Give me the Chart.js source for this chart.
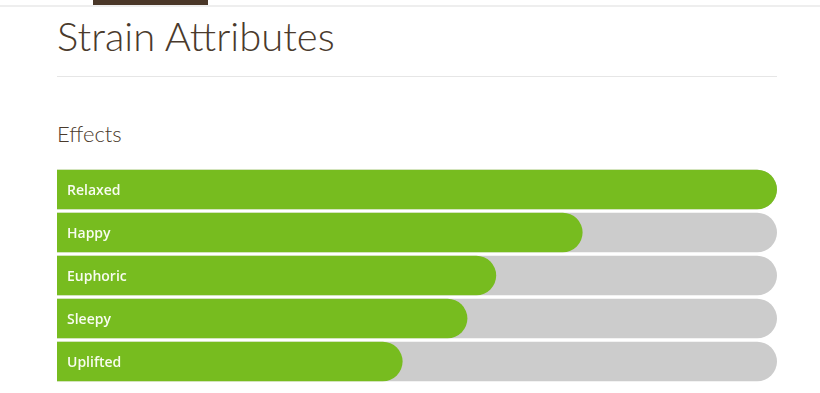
<!DOCTYPE html>
<html lang="en">
<head>
    <meta charset="UTF-8">
    <script src="https://cdn.jsdelivr.net/npm/chart.js"></script>
    <title>Strain Attributes</title>
    <style>
        body {
            margin: 0;
            background: #fff;
            font-family: Lato, "Open Sans", sans-serif;
            width: 820px;
            height: 393px;
            position: relative;
            overflow: hidden;
        }
        .topline {
            position: absolute; left: 0; top: 5px; width: 820px; height: 2px;
            background: #eeeeee;
        }
        .tab {
            position: absolute; left: 93px; top: 0; width: 115px; height: 5px;
            background: #4a3728;
        }
        h1 {
            position: absolute; left: 57px; top: 12px; margin: 0;
            font-weight: 300; font-size: 40px; color: #4a3a2c;
        }
        .rule {
            position: absolute; left: 57px; top: 76px; width: 720px; height: 1px;
            background: #e6e6e6;
        }
        h3 {
            position: absolute; left: 57px; top: 120px; margin: 0;
            font-weight: 300; font-size: 22px; color: #4a3a2c;
        }
        .chart-box {
            position: absolute; left: 57px; top: 168px; width: 720px; height: 215px;
        }
    </style>
</head>
<body>
    <div class="topline"></div>
    <div class="tab"></div>
    <h1>Strain Attributes</h1>
    <div class="rule"></div>
    <h3>Effects</h3>
    <div class="chart-box"><canvas id="effectsChart"></canvas></div>

    <script>
        const effects = ['Relaxed', 'Happy', 'Euphoric', 'Sleepy', 'Uplifted'];
        const effectScores = [100, 73, 61, 57, 48];
        const fullScale = [100, 100, 100, 100, 100];

        // white labels sitting inside the left end of each bar
        const barLabels = {
            id: 'barLabels',
            afterDatasetsDraw(chart) {
                const ctx = chart.ctx;
                const x = chart.scales.x;
                const y = chart.scales.y;
                ctx.save();
                ctx.fillStyle = '#f8fcf0';
                ctx.font = '600 14px "Open Sans"';
                ctx.textBaseline = 'middle';
                effects.forEach((name, i) => {
                    ctx.fillText(name, x.left + 10, y.getPixelForValue(i) + 2);
                });
                ctx.restore();
            }
        };

        new Chart(document.getElementById('effectsChart'), {
            type: 'bar',
            data: {
                labels: effects,
                datasets: [{
                    data: effectScores,
                    backgroundColor: '#77bc1f',
                    grouped: false,
                    borderRadius: 20,
                    inflateAmount: 0,
                    categoryPercentage: 1,
                    barPercentage: 0.92
                }, {
                    data: fullScale,
                    backgroundColor: '#cccccc',
                    grouped: false,
                    borderRadius: 20,
                    inflateAmount: 0,
                    categoryPercentage: 1,
                    barPercentage: 0.92
                }]
            },
            options: {
                indexAxis: 'y',
                responsive: true,
                maintainAspectRatio: false,
                animation: false,
                layout: { padding: 0 },
                plugins: { legend: { display: false }, tooltip: { enabled: false } },
                scales: {
                    x: { display: false, min: 0, max: 100 },
                    y: { display: false }
                }
            },
            plugins: [barLabels]
        });
    </script>
</body>
</html>
